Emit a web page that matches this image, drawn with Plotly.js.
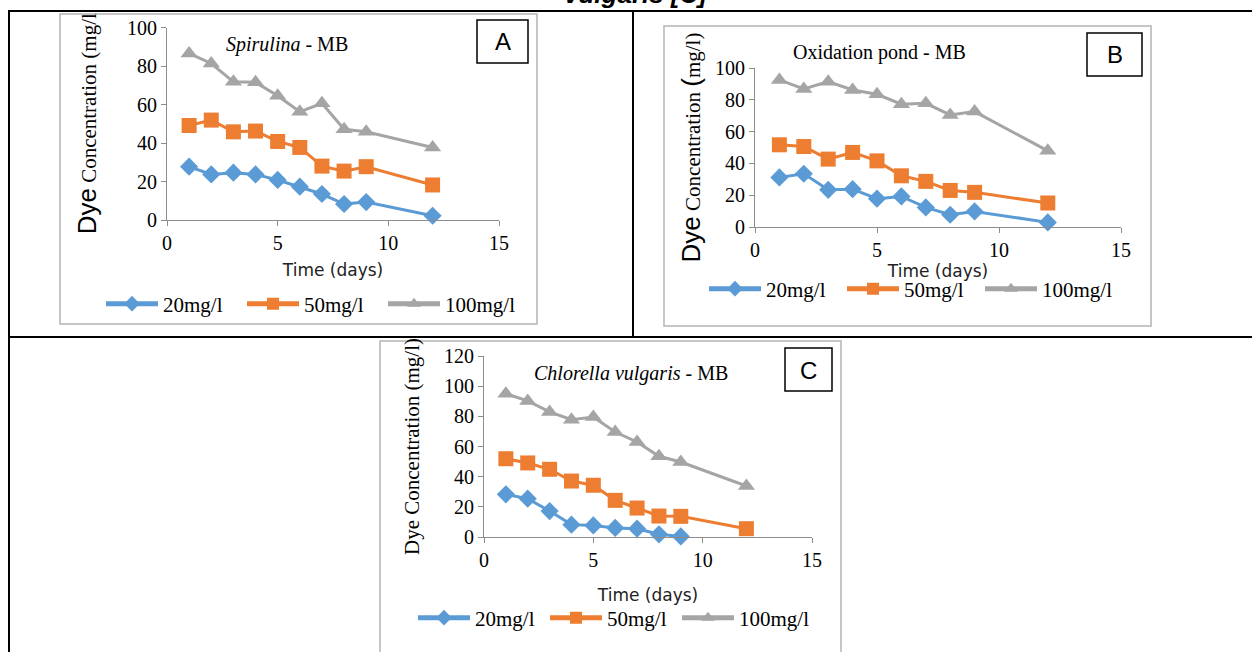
<!DOCTYPE html>
<html>
<head>
<meta charset="utf-8">
<script src="https://cdn.plot.ly/plotly-3.0.1.min.js"></script>
<style>html,body{margin:0;padding:0;background:#fff;}#chart{width:1252px;height:652px;}</style>
</head>
<body>
<div id="chart"></div>
<script>
// ---- data ----
var days = [1, 2, 3, 4, 5, 6, 7, 8, 9, 12];
var daysC20 = [1, 2, 3, 4, 5, 6, 7, 8, 9];
var seriesNames = ['20mg/l', '50mg/l', '100mg/l'];

var spirulina20 = [27.7, 23.7, 24.6, 23.7, 20.8, 17.3, 13.5, 8.3, 9.3, 2.2];
var spirulina50 = [49.1, 51.9, 45.8, 46.2, 40.8, 37.7, 28.0, 25.4, 27.7, 18.2];
var spirulina100 = [86.5, 81.3, 71.8, 71.5, 64.5, 56.2, 60.6, 47.1, 45.8, 37.7];

var pond20 = [31.2, 33.5, 23.4, 23.8, 17.8, 19.2, 12.3, 7.7, 9.8, 2.9];
var pond50 = [51.7, 50.6, 42.7, 46.9, 41.6, 32.2, 28.7, 23.0, 21.8, 15.1];
var pond100 = [92.5, 86.8, 91.4, 86.2, 83.5, 77.2, 77.8, 70.5, 72.6, 47.9];

var chlorella20 = [28.3, 25.4, 17.2, 8.2, 7.7, 6.0, 5.5, 1.8, 0.4];
var chlorella50 = [51.9, 49.1, 44.9, 37.1, 34.3, 24.3, 19.2, 13.9, 13.7, 5.5];
var chlorella100 = [95.0, 90.2, 82.9, 77.8, 79.6, 69.6, 63.0, 53.5, 49.7, 33.8];

var panelTitles = ['<i>Spirulina</i> - MB', 'Oxidation pond - MB', '<i>Chlorella vulgaris</i> - MB'];
var panelLetters = ['A', 'B', 'C'];
var xTitle = 'Time (days)';
var yTitles = [
  '<span style="font-family:Liberation Sans;font-size:26px">Dye</span> Concentration (mg/l',
  '<span style="font-family:Liberation Sans;font-size:26px">Dye</span> Concentration <span style="font-family:Liberation Sans;font-size:26px">(</span>mg/l)',
  'Dye Concentration (mg/l)'
];
var topText = '<b><i>vulgaris [C]</i></b>';

// ---- layout helpers (pixel -> paper) ----
var W = 1252, H = 652;
function px(x) { return x / W; }
function py(y) { return 1 - y / H; }

var colors = ['#5B9BD5', '#ED7D31', '#A5A5A5'];
var symbols = ['diamond', 'square', 'triangle-up'];
var msizes = [14, 15, 15];

function mk(x, y, i, xa, ya, leg) {
  return {
    x: x, y: y, type: 'scatter', mode: 'lines+markers',
    name: seriesNames[i], xaxis: xa, yaxis: ya, legend: leg,
    line: {color: colors[i], width: 3},
    marker: {symbol: symbols[i], size: msizes[i], color: colors[i]},
    cliponaxis: false
  };
}

var traces = [
  mk(days, spirulina20, 0, 'x', 'y', 'legend'),
  mk(days, spirulina50, 1, 'x', 'y', 'legend'),
  mk(days, spirulina100, 2, 'x', 'y', 'legend'),
  mk(days, pond20, 0, 'x2', 'y2', 'legend2'),
  mk(days, pond50, 1, 'x2', 'y2', 'legend2'),
  mk(days, pond100, 2, 'x2', 'y2', 'legend2'),
  mk(daysC20, chlorella20, 0, 'x3', 'y3', 'legend3'),
  mk(days, chlorella50, 1, 'x3', 'y3', 'legend3'),
  mk(days, chlorella100, 2, 'x3', 'y3', 'legend3')
];

var tickFont = {family: 'Liberation Serif', size: 20, color: '#000'};
var axCol = '#8c8c8c';
function xax(dom, anchor, standoff) {
  return {
    domain: dom, anchor: anchor, range: [0, 15], tick0: 0, dtick: 5,
    showline: true, linecolor: axCol, linewidth: 1, ticks: 'outside', ticklen: 5, tickcolor: axCol,
    showgrid: false, zeroline: false, tickfont: tickFont, fixedrange: true,
    title: {text: xTitle, font: {family: 'DejaVu Sans', size: 17, color: '#222'}, standoff: standoff}
  };
}
function yax(dom, anchor, ymax, title, tsize, standoff) {
  return {
    domain: dom, anchor: anchor, range: [0, ymax], tick0: 0, dtick: 20,
    showline: true, linecolor: axCol, linewidth: 1, ticks: 'outside', ticklen: 5, tickcolor: axCol,
    showgrid: false, zeroline: false, tickfont: tickFont, fixedrange: true,
    title: {text: title, font: {family: 'Liberation Serif', size: tsize, color: '#000'}, standoff: standoff}
  };
}

function legendAt(x, y, ew) {
  return {
    orientation: 'h', x: px(x), y: py(y), xanchor: 'left', yanchor: 'middle',
    bgcolor: 'rgba(0,0,0,0)', borderwidth: 0, itemwidth: 52, entrywidth: ew,
    itemsizing: 'constant',
    font: {family: 'Liberation Serif', size: 21, color: '#000'},
    itemclick: false, itemdoubleclick: false
  };
}

var frameCol = '#b4b4b4';
var shapes = [
  // table rules
  {type: 'line', xref: 'paper', yref: 'paper', x0: px(8), x1: px(1252), y0: py(11), y1: py(11), line: {color: '#000', width: 2}},
  {type: 'line', xref: 'paper', yref: 'paper', x0: px(9), x1: px(9), y0: py(11), y1: py(652), line: {color: '#000', width: 2}},
  {type: 'line', xref: 'paper', yref: 'paper', x0: px(633), x1: px(633), y0: py(11), y1: py(337), line: {color: '#000', width: 2}},
  {type: 'line', xref: 'paper', yref: 'paper', x0: px(9), x1: px(1252), y0: py(337), y1: py(337), line: {color: '#000', width: 2}},
  // chart frames
  {type: 'rect', xref: 'paper', yref: 'paper', x0: px(60), x1: px(537), y0: py(14), y1: py(324), line: {color: frameCol, width: 1.5}, layer: 'below'},
  {type: 'rect', xref: 'paper', yref: 'paper', x0: px(664), x1: px(1151), y0: py(26), y1: py(326), line: {color: frameCol, width: 1.5}, layer: 'below'},
  {type: 'rect', xref: 'paper', yref: 'paper', x0: px(380), x1: px(841), y0: py(341), y1: py(660), line: {color: frameCol, width: 1.5}, layer: 'below'},
  // panel letter boxes
  {type: 'rect', xref: 'paper', yref: 'paper', x0: px(477), x1: px(528), y0: py(20), y1: py(63), line: {color: '#000', width: 1.5}, fillcolor: '#fff'},
  {type: 'rect', xref: 'paper', yref: 'paper', x0: px(1087), x1: px(1142), y0: py(33), y1: py(76), line: {color: '#000', width: 1.5}, fillcolor: '#fff'},
  {type: 'rect', xref: 'paper', yref: 'paper', x0: px(785), x1: px(832), y0: py(348), y1: py(391), line: {color: '#000', width: 1.5}, fillcolor: '#fff'}
];

var annFontT = {family: 'Liberation Serif', size: 20, color: '#000'};
var annFontL = {family: 'Liberation Sans', size: 24, color: '#000'};
var annotations = [
  {text: topText, xref: 'paper', yref: 'paper', x: px(636), y: py(11), xanchor: 'center', yanchor: 'bottom', showarrow: false,
   font: {family: 'Liberation Sans', size: 26, color: '#000'}},
  {text: panelTitles[0], xref: 'paper', yref: 'paper', x: px(287), y: py(44), xanchor: 'center', yanchor: 'middle', showarrow: false, font: annFontT},
  {text: panelTitles[1], xref: 'paper', yref: 'paper', x: px(879), y: py(53), xanchor: 'center', yanchor: 'middle', showarrow: false, font: annFontT},
  {text: panelTitles[2], xref: 'paper', yref: 'paper', x: px(631), y: py(373), xanchor: 'center', yanchor: 'middle', showarrow: false, font: annFontT},
  {text: panelLetters[0], xref: 'paper', yref: 'paper', x: px(502.5), y: py(42), xanchor: 'center', yanchor: 'middle', showarrow: false, font: annFontL},
  {text: panelLetters[1], xref: 'paper', yref: 'paper', x: px(1114.5), y: py(55), xanchor: 'center', yanchor: 'middle', showarrow: false, font: annFontL},
  {text: panelLetters[2], xref: 'paper', yref: 'paper', x: px(808.5), y: py(370), xanchor: 'center', yanchor: 'middle', showarrow: false, font: annFontL}
];

var layout = {
  width: W, height: H,
  margin: {l: 0, r: 0, t: 0, b: 0},
  paper_bgcolor: '#fff', plot_bgcolor: 'rgba(0,0,0,0)',
  showlegend: true,
  xaxis: xax([px(167), px(499)], 'y', 11),
  yaxis: yax([py(220), py(27.5)], 'x', 100, yTitles[0], 21, 24),
  xaxis2: xax([px(755), px(1121)], 'y2', 5),
  yaxis2: yax([py(227), py(68)], 'x2', 100, yTitles[1], 21, 8),
  xaxis3: xax([px(484), px(812)], 'y3', 19),
  yaxis3: yax([py(537), py(356)], 'x3', 120, yTitles[2], 21, 18),
  legend: legendAt(101, 304, 74),
  legend2: legendAt(704, 289, 71),
  legend3: legendAt(413, 618, 65),
  shapes: shapes,
  annotations: annotations
};

Plotly.newPlot('chart', traces, layout, {displayModeBar: false, staticPlot: true});
</script>
</body>
</html>
